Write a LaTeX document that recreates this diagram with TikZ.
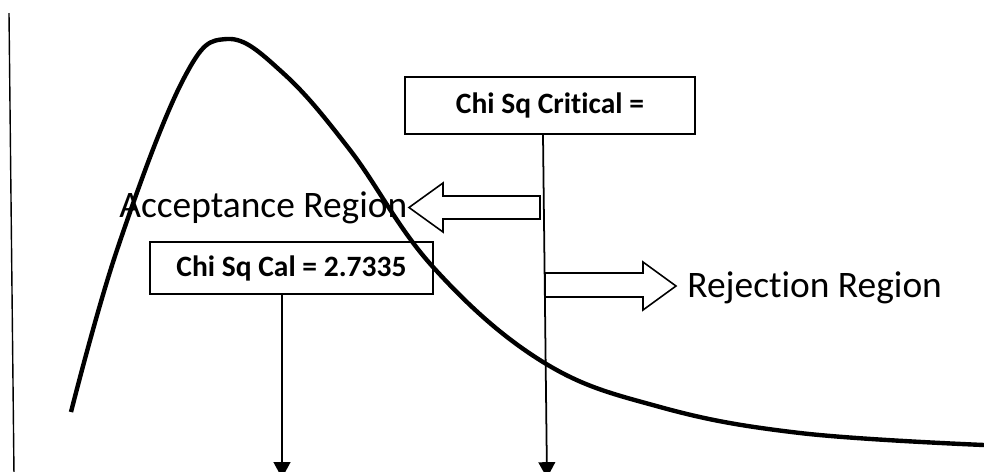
\documentclass[tikz,border=0pt]{standalone}
\usepackage{fontspec}
\setmainfont{Carlito}[Ligatures=NoCommon]
\usetikzlibrary{arrows.meta}
\definecolor{ChiInk}{RGB}{0,0,0}
\tikzset{
  chi/box/.style={
    draw=ChiInk,
    line width=1.1pt,
    fill=white,
    align=center,
    text=ChiInk,
    inner sep=0pt,
    font=\fontsize{16.8}{20}\selectfont\bfseries
  },
  chi/label/.style={text=ChiInk, inner sep=0pt, anchor=base west, font=\fontsize{21.3}{25}\selectfont},
  chi/curve/.style={draw=ChiInk, line width=2.5pt},
  chi/block/.style={draw=ChiInk, line width=0.9pt, fill=white},
  chi/arrow/.style={-{Triangle[length=9pt,width=9.5pt]}, line width=1pt, draw=ChiInk},
  chi/axis/.style={draw=ChiInk, line width=0.8pt}
}

\begin{document}
\begin{tikzpicture}[x=0.02cm,y=-0.02cm]
  \useasboundingbox (0,0) rectangle (984,471);
  \draw[chi/axis] (9,13) -- (14,475);
  \node[chi/box,minimum width=5.8cm,minimum height=1.14cm] (crit) at (550,105.5) {Chi Sq Critical =};
  \node[chi/box,minimum width=5.66cm,minimum height=1.04cm] (cal) at (291.5,268) {Chi Sq Cal = 2.7335};
  \coordinate (critend) at (547,478);
  \coordinate (calend) at (282,478);
  \draw[chi/arrow] ([xshift=-0.14cm]crit.south) -- (critend);
  \draw[chi/arrow] ([xshift=-0.19cm]cal.south) -- (calend);
  % block arrows either side of the critical value
  \draw[chi/block] (540,196) -- (443,196) -- (443,183) -- (409,207.5) -- (443,232) -- (443,219) -- (540,219) -- cycle;
  \draw[chi/block] (545,273) -- (643,273) -- (643,262) -- (676,286) -- (643,310) -- (643,297) -- (545,297) -- cycle;
  \node[chi/label] (accept) at (119,217) {Acceptance Region};
  \node[chi/label] (reject) at (687,297) {Rejection Region};
  \draw[chi/curve] plot[smooth,tension=0.65] coordinates {(71,412) (117,250) (183,80) (227,39) (283,73) (350,150) (433,267) (543,362) (660,407) (800,433) (984,445)};
\end{tikzpicture}
\end{document}
